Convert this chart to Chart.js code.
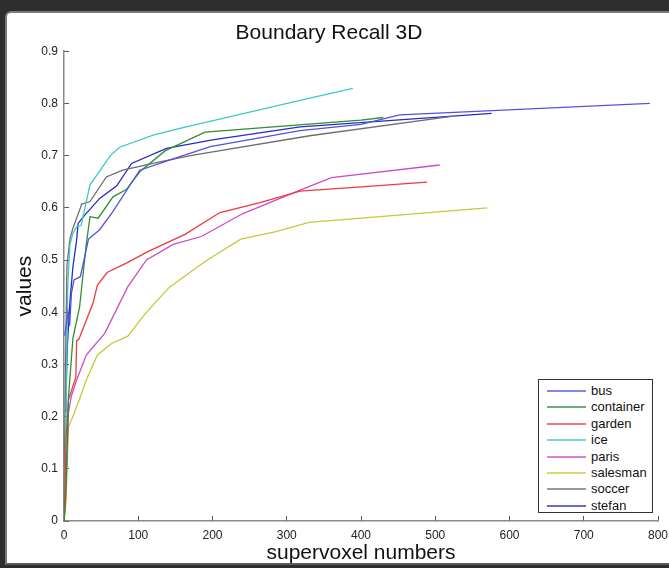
<!DOCTYPE html>
<html>
<head>
<meta charset="utf-8">
<script src="https://cdn.jsdelivr.net/npm/chart.js@4/dist/chart.umd.min.js"></script>
<style>
  html, body { margin: 0; padding: 0; }
  body { width: 669px; height: 568px; background: #2e2e2e; position: relative; overflow: hidden; font-family: "Liberation Sans", Arial, sans-serif; }
  #frame { position: absolute; left: 5px; top: 11px; width: 664px; height: 554px; background: #ffffff; border-left: 2px solid #7a7a7a; border-top: 2px solid #7a7a7a; border-bottom: 2px solid #5a5a5a; border-top-left-radius: 6px; box-sizing: border-box; }
  #wrap { position: absolute; left: 0; top: 0; width: 669px; height: 568px; }
  #legend { position: absolute; left: 538px; top: 379px; width: 115px; height: 134px; border: 1px solid #333; background: #fff; box-sizing: border-box; }
  .row { position: absolute; left: 0; height: 16px; width: 110px; font-size: 13px; line-height: 16px; color: #111; }
  .sw { position: absolute; left: 8px; top: 7px; width: 39px; height: 2px; opacity: 0.7; }
  .lb { position: absolute; left: 52px; top: 0; }
</style>
</head>
<body>
<div id="frame"></div>
<div id="wrap"><canvas id="c" width="669" height="568"></canvas></div>
<div id="legend"></div>
<script>
const seriesNames = ["bus", "container", "garden", "ice", "paris", "salesman", "soccer", "stefan"];

const busX = [1, 5.4, 7.6, 10, 13.5, 22, 33, 48, 66, 102, 143, 197, 318, 400, 452, 789];
const busY = [0.355, 0.40, 0.374, 0.436, 0.462, 0.468, 0.54, 0.558, 0.593, 0.672, 0.692, 0.717, 0.748, 0.76, 0.778, 0.80];

const containerX = [0, 2, 6, 12, 21, 30, 35, 46, 66, 84, 102, 136, 190, 400, 430];
const containerY = [0, 0.03, 0.236, 0.35, 0.41, 0.53, 0.583, 0.58, 0.621, 0.635, 0.669, 0.709, 0.745, 0.768, 0.773];

const gardenX = [0, 3, 6, 16, 17, 20, 39, 45, 58, 84, 113, 163, 210, 264, 318, 400, 489];
const gardenY = [0, 0.165, 0.232, 0.276, 0.345, 0.348, 0.417, 0.452, 0.476, 0.494, 0.516, 0.549, 0.591, 0.61, 0.632, 0.64, 0.649];

const iceX = [0, 2, 5, 8, 12, 17, 23, 35, 63, 75, 120, 156, 331, 389];
const iceY = [0, 0.12, 0.45, 0.53, 0.551, 0.564, 0.566, 0.644, 0.701, 0.716, 0.739, 0.752, 0.81, 0.829];

const parisX = [0, 3, 6, 10, 17, 30, 55, 86, 111, 147, 185, 241, 318, 360, 506];
const parisY = [0, 0.072, 0.207, 0.24, 0.27, 0.318, 0.36, 0.449, 0.5, 0.53, 0.545, 0.589, 0.634, 0.658, 0.682];

const salesmanX = [0, 3, 6, 12, 20, 30, 45, 64, 86, 108, 142, 190, 238, 284, 330, 570];
const salesmanY = [0, 0.05, 0.18, 0.2, 0.23, 0.27, 0.318, 0.34, 0.354, 0.395, 0.448, 0.497, 0.54, 0.554, 0.572, 0.6];

const soccerX = [0, 2, 4, 8, 12, 24, 35, 57, 79, 129, 174, 331, 522];
const soccerY = [0, 0.3, 0.49, 0.54, 0.561, 0.607, 0.612, 0.659, 0.672, 0.688, 0.701, 0.738, 0.775];

const stefanX = [1.5, 2.5, 4.5, 8, 12, 17, 19, 28, 48, 71, 91, 138, 200, 318, 399, 576];
const stefanY = [0.21, 0.24, 0.334, 0.42, 0.487, 0.538, 0.57, 0.586, 0.618, 0.642, 0.685, 0.714, 0.73, 0.755, 0.763, 0.781];

const xTicks = [0, 100, 200, 300, 400, 500, 600, 700, 800];
const yTicks = [0, 0.1, 0.2, 0.3, 0.4, 0.5, 0.6, 0.7, 0.8, 0.9];

const seriesColors = ["#5252e0", "#2f8f2f", "#ee3a3a", "#3cc8c8", "#cc4acc", "#c8c83a", "#6e6e6e", "#2a2ac4"];

const xs = [busX, containerX, gardenX, iceX, parisX, salesmanX, soccerX, stefanX];
const ys = [busY, containerY, gardenY, iceY, parisY, salesmanY, soccerY, stefanY];

const datasets = seriesNames.map((name, i) => ({
  label: name,
  data: xs[i].map((x, j) => ({ x: x, y: ys[i][j] })),
  borderColor: seriesColors[i],
  backgroundColor: seriesColors[i],
  borderWidth: 1.3,
  pointRadius: 0,
  tension: 0,
  fill: false
}));

const FONT = "'Liberation Sans', Arial, sans-serif";

const chart = new Chart(document.getElementById("c"), {
  type: "line",
  data: { datasets: datasets },
  options: {
    responsive: false,
    animation: false,
    layout: { padding: { left: 0, right: 11, top: 0, bottom: 0 } },
    plugins: {
      legend: { display: false },
      tooltip: { enabled: false },
      title: {
        display: true,
        text: "Boundary Recall 3D",
        color: "#111",
        font: { family: FONT, size: 21, weight: "normal", lineHeight: 1.2 },
        padding: { top: 21, bottom: 5 }
      }
    },
    scales: {
      x: {
        type: "linear",
        min: 0, max: 800,
        afterBuildTicks: (s) => { s.ticks = xTicks.map(v => ({ value: v })); },
        afterFit: (s) => { s.height = 47; s.paddingLeft = 0; s.paddingRight = 0; },
        border: { display: true, color: "#8a8a8a", width: 1.5 },
        grid: { display: true, drawOnChartArea: false, drawTicks: true, tickLength: -5, color: "#555", lineWidth: 1 },
        ticks: { color: "#222", padding: 12, maxRotation: 0, font: { family: FONT, size: 12 } },
        title: { display: true, text: "supervoxel numbers", color: "#111", font: { family: FONT, size: 21, lineHeight: 1.2 }, padding: { top: 0, bottom: 2 } }
      },
      y: {
        type: "linear",
        min: 0, max: 0.9,
        afterBuildTicks: (s) => { s.ticks = yTicks.map(v => ({ value: v })); },
        afterFit: (s) => { s.width = 64; s.paddingTop = 0; s.paddingBottom = 0; },
        border: { display: true, color: "#8a8a8a", width: 1.5 },
        grid: { display: true, drawOnChartArea: false, drawTicks: true, tickLength: -5, color: "#555", lineWidth: 1 },
        ticks: { color: "#222", padding: 11, font: { family: FONT, size: 12 }, callback: (v) => String(+(+v).toFixed(1)) },
        title: { display: true, text: "values", color: "#111", font: { family: FONT, size: 21, lineHeight: 1.2 }, padding: { top: 13, bottom: 0 } }
      }
    }
  }
});

const leg = document.getElementById("legend");
const rowTops = [3, 19, 36, 52, 69, 85, 101, 118];
chart.data.datasets.forEach((ds, i) => {
  const row = document.createElement("div");
  row.className = "row";
  row.style.top = rowTops[i] + "px";
  const sw = document.createElement("div");
  sw.className = "sw";
  sw.style.background = ds.borderColor;
  const t = document.createElement("div");
  t.className = "lb";
  t.textContent = ds.label;
  row.appendChild(sw);
  row.appendChild(t);
  leg.appendChild(row);
});
</script>
</body>
</html>
